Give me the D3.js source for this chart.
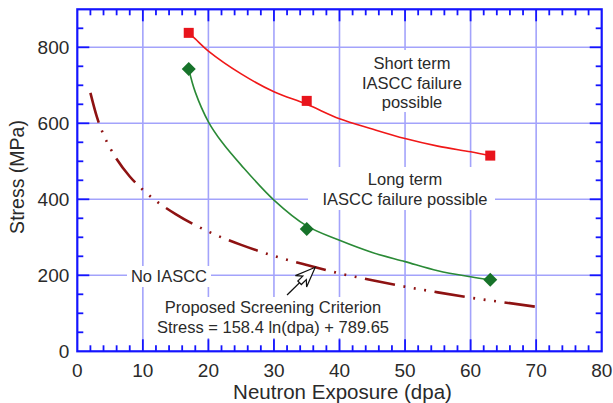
<!DOCTYPE html>
<html><head><meta charset="utf-8">
<script src="https://cdn.jsdelivr.net/npm/d3@7"></script>
<style>
html,body{margin:0;padding:0;background:#fff;}
text{font-family:Arial,"Liberation Sans",Helvetica,sans-serif;fill:#2a2a2a;}
</style></head>
<body>
<svg id="chart" width="613" height="403"></svg>
<script>
// ---- data ----
const xTickValues = [0, 10, 20, 30, 40, 50, 60, 70, 80];
const yTickValues = [0, 200, 400, 600, 800];
const shortTermX = [17, 35, 63];
const shortTermY = [838, 659, 515];
const longTermX = [17, 35, 63];
const longTermY = [743, 322, 188];
const shortFitX = [17, 18, 20, 25, 30, 35, 40, 45, 50, 55, 60, 63];
const shortFitY = [838, 822, 790, 730, 683, 650, 612, 585, 560, 540, 525, 515];
const longFitX = [17, 18, 20, 22, 25, 30, 35, 40, 45, 50, 55, 60, 63];
const longFitY = [743, 682, 604, 552, 490, 398, 330, 292, 260, 236, 212, 196, 188];
const criterionX = [2, 3, 4, 5, 6, 8, 10, 12, 15, 20, 25, 30, 35, 40, 45, 50, 55, 60, 65, 70];
const criterionY = [680, 616, 570, 535, 506, 460, 425, 396, 361, 315, 280, 251, 227, 205, 187, 170, 155, 141, 129, 117];
const xLabel = "Neutron Exposure (dpa)";
const yLabel = "Stress (MPa)";

// ---- layout ----
const svg = d3.select("#chart");
const m = {left: 77.3, top: 9.3, right: 613 - 601.7, bottom: 403 - 351.3};
const W = 613 - m.left - m.right, H = 403 - m.top - m.bottom;
const x = d3.scaleLinear().domain([0, 80]).range([m.left, m.left + W]);
const y = d3.scaleLinear().domain([0, 900]).range([m.top + H, m.top]);

const axisColor = "#1414ff", gridColor = "#a3a3fb";

// grid
const g = svg.append("g");
g.selectAll(".gx").data(xTickValues.filter(d => d > 0 && d < 80)).join("line")
  .attr("x1", d => x(d)).attr("x2", d => x(d)).attr("y1", y(0)).attr("y2", y(900))
  .attr("stroke", gridColor).attr("stroke-width", 1.6);
g.selectAll(".gy").data(yTickValues.filter(d => d > 0)).join("line")
  .attr("y1", d => y(d)).attr("y2", d => y(d)).attr("x1", x(0)).attr("x2", x(80))
  .attr("stroke", gridColor).attr("stroke-width", 1.6);

// white label boxes (interrupt grid)
const boxes = [
  {x0: 360, x1: 465, y0: 50, y1: 112},
  {x0: 308, x1: 495, y0: 167, y1: 210},
  {x0: 127, x1: 211, y0: 266, y1: 287},
  {x0: 150, x1: 396, y0: 297, y1: 338}
];
svg.selectAll(".box").data(boxes).join("rect")
  .attr("x", d => d.x0).attr("y", d => d.y0)
  .attr("width", d => d.x1 - d.x0).attr("height", d => d.y1 - d.y0).attr("fill", "#fff");

// ticks (inward, all four sides)
const minorX = d3.range(0, 81, 2).filter(d => d % 10 !== 0);
const minorY = d3.range(0, 901, 50).filter(d => d % 200 !== 0 && d < 900);
const majX = xTickValues.filter(d => d > 0 && d < 80);
const majY = yTickValues.filter(d => d > 0);
const tk = svg.append("g").attr("stroke", axisColor).attr("stroke-width", 1.8);
function xt(data, len){
  tk.selectAll(null).data(data).join("line")
    .attr("x1", d => x(d)).attr("x2", d => x(d)).attr("y1", y(0)).attr("y2", y(0) - len);
  tk.selectAll(null).data(data).join("line")
    .attr("x1", d => x(d)).attr("x2", d => x(d)).attr("y1", y(900)).attr("y2", y(900) + len);
}
function yt(data, len){
  tk.selectAll(null).data(data).join("line")
    .attr("y1", d => y(d)).attr("y2", d => y(d)).attr("x1", x(0)).attr("x2", x(0) + len);
  tk.selectAll(null).data(data).join("line")
    .attr("y1", d => y(d)).attr("y2", d => y(d)).attr("x1", x(80)).attr("x2", x(80) - len);
}
xt(minorX, 6); yt(minorY, 6); xt(majX, 12); yt(majY, 12);

// frame
svg.append("rect").attr("x", x(0)).attr("y", y(900)).attr("width", W).attr("height", H)
  .attr("fill", "none").attr("stroke", axisColor).attr("stroke-width", 2.2);

// tick labels
svg.selectAll(".xl").data(xTickValues).join("text")
  .attr("x", d => x(d)).attr("y", y(0) + 26).attr("text-anchor", "middle")
  .attr("font-size", 19).text(d => d);
svg.selectAll(".yl").data(yTickValues).join("text")
  .attr("x", x(0) - 8).attr("y", d => y(d) + 7).attr("text-anchor", "end")
  .attr("font-size", 19).text(d => d);

// axis titles
svg.append("text").attr("x", (x(0) + x(80)) / 2 + 3).attr("y", 399)
  .attr("text-anchor", "middle").attr("font-size", 20.5).text(xLabel);
svg.append("text").attr("transform", `translate(24,${177}) rotate(-90)`)
  .attr("text-anchor", "middle").attr("font-size", 19.5).text(yLabel);

// criterion dash-dot line (pattern stretched so it starts and ends with a dash)
const crit = criterionX.map((v, i) => [v, criterionY[i]]);
const critPath = svg.append("path").datum(crit)
  .attr("d", d3.line().x(d => x(d[0])).y(d => y(d[1])).curve(d3.curveMonotoneX))
  .attr("fill", "none").attr("stroke", "#8e1212").attr("stroke-width", 2.6);
{
  const L = critPath.node().getTotalLength();
  const base = [32, 9, 2, 9, 2, 9, 2, 9];
  const period = d3.sum(base);
  const n = Math.round((L - base[0]) / period);
  const k = (L - base[0]) / (n * period);
  critPath.attr("stroke-dasharray", base.map(v => (v * k).toFixed(2)).join(","));
}

// fitted curves
const lineGen = d3.line().x(d => x(d[0])).y(d => y(d[1])).curve(d3.curveCatmullRom.alpha(0.5));
svg.append("path").datum(shortFitX.map((v, i) => [v, shortFitY[i]]))
  .attr("d", lineGen).attr("fill", "none").attr("stroke", "#f01818").attr("stroke-width", 1.6);
svg.append("path").datum(longFitX.map((v, i) => [v, longFitY[i]]))
  .attr("d", lineGen).attr("fill", "none").attr("stroke", "#2a8a36").attr("stroke-width", 1.6);

// markers
svg.selectAll(".sq").data(shortTermX.map((v, i) => [v, shortTermY[i]])).join("rect")
  .attr("x", d => x(d[0]) - 5).attr("y", d => y(d[1]) - 5)
  .attr("width", 10).attr("height", 10).attr("fill", "#e8141c");
svg.selectAll(".dm").data(longTermX.map((v, i) => [v, longTermY[i]])).join("path")
  .attr("transform", d => `translate(${x(d[0])},${y(d[1])})`)
  .attr("d", "M0,-7L7,0L0,7L-7,0Z").attr("fill", "#17732a");

// annotation arrow
const tip = [x(36.3), y(221)], tail = [x(32.0), y(148)];
const ang = Math.atan2(tip[1] - tail[1], tip[0] - tail[0]);
function pt(along, side){
  return [tip[0] + along * Math.cos(ang) - side * Math.sin(ang),
          tip[1] + along * Math.sin(ang) + side * Math.cos(ang)];
}
svg.append("line").attr("x1", tail[0]).attr("y1", tail[1])
  .attr("x2", pt(-14, 0)[0]).attr("y2", pt(-14, 0)[1])
  .attr("stroke", "#111").attr("stroke-width", 1.3);
const head = [pt(0, 0), pt(-20, 8), pt(-15, 2.5), pt(-22, 2.5), pt(-22, -2.5), pt(-15, -2.5), pt(-20, -8)];
svg.append("polygon").attr("points", head.map(p => p.join(",")).join(" "))
  .attr("fill", "#fff").attr("stroke", "#111").attr("stroke-width", 1.2).attr("stroke-linejoin", "miter");

// annotation texts
function label(lines, cx, cy, lh){
  const t = svg.append("text").attr("text-anchor", "middle").attr("font-size", 16.5);
  lines.forEach((s, i) => t.append("tspan").attr("x", cx).attr("y", cy + i * lh).text(s));
}
label(["Short term", "IASCC failure", "possible"], 412, 69, 19.5);
label(["Long term", "IASCC failure possible"], 405, 185, 19.5);
label(["No IASCC"], 169, 282, 0);
label(["Proposed Screening Criterion", "Stress = 158.4 ln(dpa) + 789.65"], 273, 313, 20);
</script>
</body></html>
